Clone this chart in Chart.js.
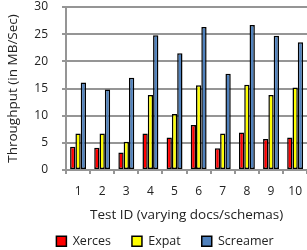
<!DOCTYPE html>
<html>
<head>
<meta charset="utf-8">
<script src="https://cdn.jsdelivr.net/npm/chart.js@4"></script>
<style>
  html, body { margin: 0; padding: 0; background: #fff; overflow: hidden; }
  #wrap { position: relative; width: 312px; height: 250px; }
</style>
</head>
<body>
<div id="wrap"><canvas id="throughput-chart"></canvas></div>
<script>
// ---- DATA ----
const TEST_IDS = ['1', '2', '3', '4', '5', '6', '7', '8', '9', '10'];
const XERCES   = [4.3, 4.1, 3.2, 6.7, 6.0, 8.3, 4.0, 6.9, 5.7, 6.0];
const EXPAT    = [6.7, 6.7, 5.2, 13.8, 10.3, 15.6, 6.7, 15.7, 13.8, 15.2];
const SCREAMER = [16.1, 14.8, 17.0, 24.8, 21.5, 26.3, 17.7, 26.7, 24.7, 23.5];
const Y_TICKS  = [0, 5, 10, 15, 20, 25, 30];

const FONT = "'Open Sans', 'Noto Sans', sans-serif";
const GRID = '#959595';
const TEXT = '#222';

// legend: reserve a short strip, then place the row like the original figure
const legendPlace = {
  id: 'legendPlace',
  afterLayout(chart) {
    const lg = chart.legend;
    if (!lg) return;
    lg.left += 9;
    lg.right += 9;
    lg.top -= 16;
  },
};

const ctx = document.getElementById('throughput-chart').getContext('2d');

new Chart(ctx, {
  type: 'bar',
  data: {
    labels: TEST_IDS,
    datasets: [
      { label: 'Xerces',   data: XERCES,   backgroundColor: '#ff0000' },
      { label: 'Expat',    data: EXPAT,    backgroundColor: '#ffff00' },
      { label: 'Screamer', data: SCREAMER, backgroundColor: '#4f81bd' },
    ].map(d => Object.assign(d, {
      borderColor: '#000',
      borderWidth: 1.5,
      borderSkipped: false,
      categoryPercentage: 0.66,
      barPercentage: 1.0,
    })),
  },
  options: {
    responsive: true,
    maintainAspectRatio: false,
    animation: false,
    layout: { padding: 0 },
    plugins: {
      legend: {
        position: 'bottom',
        maxHeight: 20,
        labels: {
          boxWidth: 10,
          boxHeight: 10,
          padding: 21,
          color: TEXT,
          font: { family: FONT, size: 12.5 },
        },
      },
      tooltip: { enabled: false },
    },
    scales: {
      x: {
        afterFit(scale) {
          scale.height = 60;
        },
        grid: {
          drawOnChartArea: false,
          drawTicks: true,
          tickLength: 4,
          color: GRID,
          lineWidth: 2,
        },
        border: { color: GRID, width: 2 },
        ticks: {
          color: TEXT,
          font: { family: FONT, size: 12 },
          padding: 10,
          maxRotation: 0,
          autoSkip: false,
        },
        title: {
          display: true,
          text: 'Test ID (varying docs/schemas)',
          color: TEXT,
          font: { family: FONT, size: 13.5 },
          padding: { top: 0, bottom: 7 },
        },
      },
      y: {
        min: 0,
        max: 30,
        afterBuildTicks(axis) {
          axis.ticks = Y_TICKS.map(v => ({ value: v }));
        },
        afterFit(scale) {
          scale.width = 66;
          scale.paddingTop = 7;
          scale.paddingBottom = 7;
        },
        grid: {
          color: GRID,
          lineWidth: 2,
          drawTicks: true,
          tickLength: 4,
        },
        border: { color: GRID, width: 2 },
        ticks: {
          color: TEXT,
          font: { family: FONT, size: 12 },
          padding: 14,
        },
        title: {
          display: true,
          text: 'Throughput (in MB/Sec)',
          color: TEXT,
          font: { family: FONT, size: 13.5 },
          padding: { top: 5, bottom: 0 },
        },
      },
    },
  },
  plugins: [legendPlace],
});
</script>
</body>
</html>
